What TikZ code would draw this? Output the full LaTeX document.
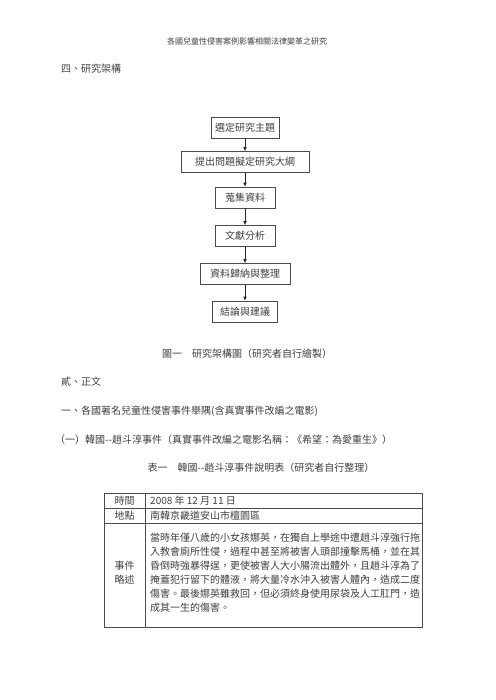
\documentclass[tikz,border=0pt]{standalone}
\usepackage{fontspec}
\setmainfont{Noto Sans CJK TC}
\usetikzlibrary{arrows.meta}
\begin{document}
\begin{tikzpicture}[x=1pt,y=-1pt,
  txt/.style={inner sep=0pt, font=\fontsize{10}{12}\selectfont, text=black!75},
  small/.style={inner sep=0pt, font=\fontsize{8}{10}\selectfont, text=black!75},
  flowbox/.style={draw=black!70, line width=0.6pt, minimum height=21pt, inner sep=0pt, font=\fontsize{10}{12}\selectfont, text=black!75},
  flowarrow/.style={-{Latex[length=4pt,width=3.5pt]}, line width=0.6pt, draw=black!85},
  gridline/.style={draw=black!70, line width=0.6pt}]
\useasboundingbox[fill=white] (0,0) rectangle (495,700);

% header
\node[small] (hdr) at (247,41) {各國兒童性侵害案例影響相關法律變革之研究};
\node[txt, anchor=west] (sec4) at (61,69) {四、研究架構};

% flowchart
\node[flowbox, minimum width=68pt]  (b1) at (245,127.5) {選定研究主題};
\node[flowbox, minimum width=128pt] (b2) at (245,162)   {提出問題擬定研究大綱};
\node[flowbox, minimum width=60pt]  (b3) at (245,197.5) {蒐集資料};
\node[flowbox, minimum width=60pt]  (b4) at (245,236)   {文獻分析};
\node[flowbox, minimum width=90pt]  (b5) at (245,274)   {資料歸納與整理};
\node[flowbox, minimum width=65pt]  (b6) at (245,311.5) {結論與建議};
\draw[flowarrow] (b1) -- (b2);
\draw[flowarrow] (b2) -- (b3);
\draw[flowarrow] (b3) -- (b4);
\draw[flowarrow] (b4) -- (b5);
\draw[flowarrow] (b5) -- (b6);

\node[txt] (cap1) at (247,354) {圖一\hspace{10pt}研究架構圖（研究者自行繪製）};

\node[txt, anchor=west] (secB) at (61,382) {貳、正文};
\node[txt, anchor=west] (sec1) at (61,411) {一、各國著名兒童性侵害事件舉隅(含真實事件改編之電影)};
\node[txt, anchor=west] (sub1) at (55,440) {（一）韓國-{}-趙斗淳事件（真實事件改編之電影名稱：《希望：為愛重生》）};
\node[txt] (cap2) at (261,468) {表一\hspace{10pt}韓國-{}-趙斗淳事件說明表（研究者自行整理）};

% table
\draw[gridline] (104,493) rectangle (422,627);
\draw[gridline] (104,508) -- (422,508);
\draw[gridline] (104,523) -- (422,523);
\draw[gridline] (145,493) -- (145,627);

\node[txt] (t1) at (124.5,501) {時間};
\node[txt, anchor=west] (v1) at (150,501) {2008 年 12 月 11 日};
\node[txt] (t2) at (124.5,516) {地點};
\node[txt, anchor=west] (v2) at (150,516) {南韓京畿道安山市檀園區};
\node[txt] (t3a) at (124.5,566) {事件};
\node[txt] (t3b) at (124.5,580) {略述};
\node[txt, anchor=west] (l1) at (150,538) {當時年僅八歲的小女孩娜英，在獨自上學途中遭趙斗淳強行拖};
\node[txt, anchor=west] (l2) at (150,552) {入教會廁所性侵，過程中甚至將被害人頭部撞擊馬桶，並在其};
\node[txt, anchor=west] (l3) at (150,566) {昏倒時強暴得逞，更使被害人大小腸流出體外，且趙斗淳為了};
\node[txt, anchor=west] (l4) at (150,580) {掩蓋犯行留下的體液，將大量冷水沖入被害人體內，造成二度};
\node[txt, anchor=west] (l5) at (150,594) {傷害。最後娜英雖救回，但必須終身使用尿袋及人工肛門，造};
\node[txt, anchor=west] (l6) at (150,608) {成其一生的傷害。};
\end{tikzpicture}
\end{document}
